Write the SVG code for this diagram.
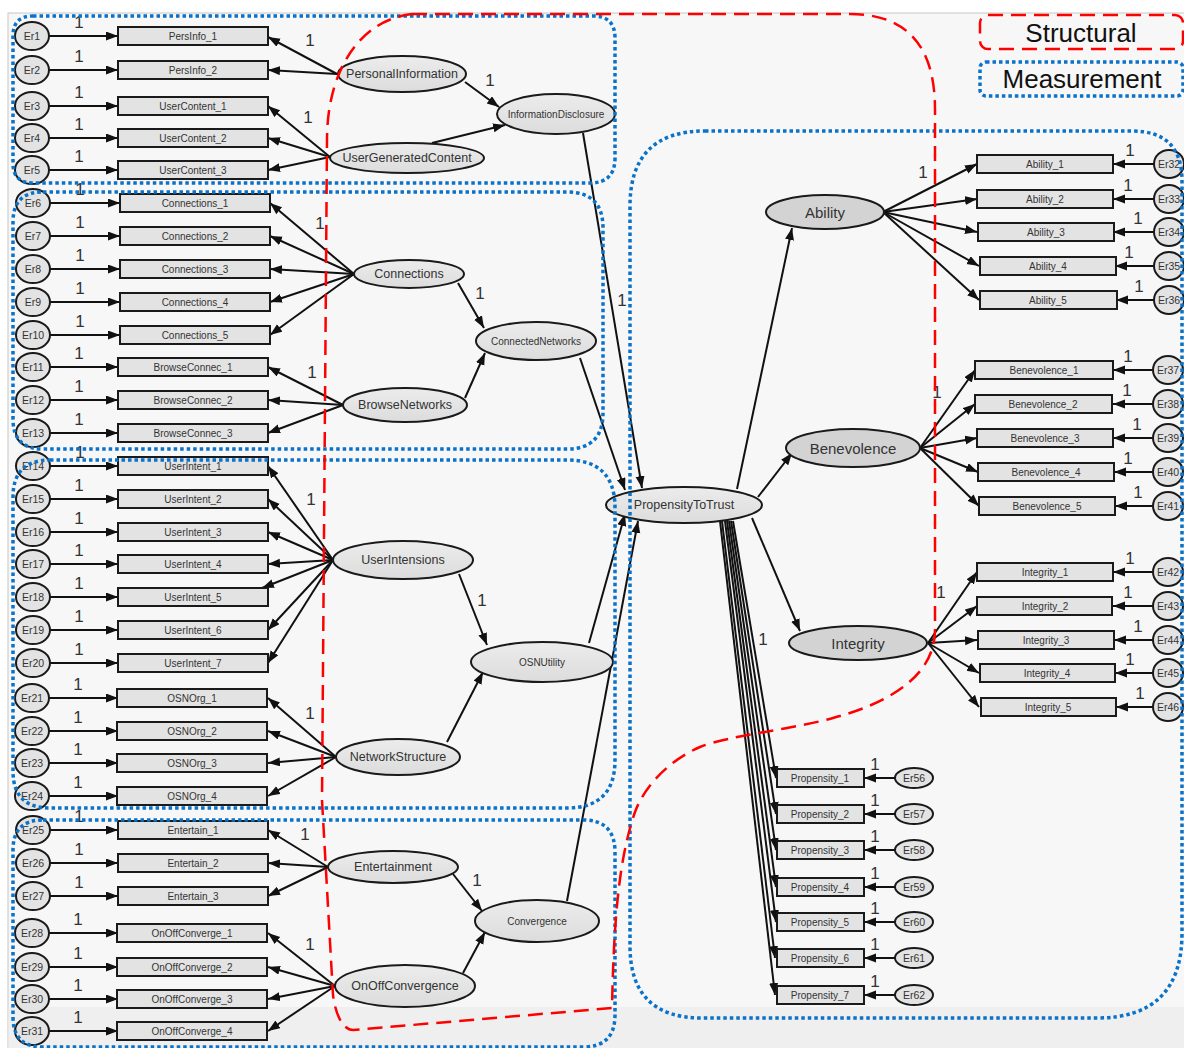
<svg xmlns="http://www.w3.org/2000/svg" width="1184" height="1048" viewBox="0 0 1184 1048">
<defs>
<style>
.box{fill:#e3e3e3;stroke:#1a1a1a;stroke-width:2}
.err{fill:#e3e3e3;stroke:#1a1a1a;stroke-width:2}
.lat{fill:url(#lg);stroke:#1a1a1a;stroke-width:2}
.lat2{fill:#d3d3d3;stroke:#1a1a1a;stroke-width:2}
text{font-family:"Liberation Sans",Arial,sans-serif;fill:#333}
.tb{font-size:10px;text-anchor:middle;dominant-baseline:central}
.te{font-size:10.5px;text-anchor:middle;dominant-baseline:central}
.tl{font-size:12.5px;text-anchor:middle;dominant-baseline:central}
.ts{font-size:10px;text-anchor:middle;dominant-baseline:central}
.tbig{font-size:15px;text-anchor:middle;dominant-baseline:central}
.one{font-size:17px;text-anchor:middle}
.c line{stroke:#111;stroke-width:2;marker-end:url(#ah)}
.meas{fill:none;stroke:#0a72c8;stroke-width:3.5;stroke-dasharray:3.5 3}
.struct{fill:none;stroke:#ff0000;stroke-width:2.5;stroke-dasharray:15 8}
.leg{font-size:26px;fill:#111;text-anchor:middle}
</style>
<linearGradient id="lg" x1="0" y1="0" x2="0" y2="1">
<stop offset="0" stop-color="#ececec"/><stop offset="1" stop-color="#dcdcdc"/>
</linearGradient>
<marker id="ah" markerUnits="userSpaceOnUse" markerWidth="13" markerHeight="10" refX="12" refY="4.5" orient="auto">
<path d="M0,0 L12,4.5 L0,9 Z" fill="#111"/>
</marker>
</defs>
<rect width="1184" height="1048" fill="#fff"/>
<rect x="8" y="13" width="1177" height="1036" fill="#f7f7f7" stroke="#c8c8c8" stroke-width="1"/>
<rect x="8.5" y="1007" width="1176" height="41" fill="#efefef"/>

<g id="connectors" class="c">
<!-- left error arrows -->
<line x1="49" y1="36" x2="118" y2="36"/><line x1="49" y1="70" x2="118" y2="70"/><line x1="49" y1="106" x2="118" y2="106"/><line x1="49" y1="138" x2="118" y2="138"/><line x1="49" y1="170" x2="118" y2="170"/>
<line x1="49" y1="203" x2="120" y2="203"/><line x1="49" y1="236" x2="120" y2="236"/><line x1="49" y1="269" x2="120" y2="269"/><line x1="49" y1="302" x2="120" y2="302"/><line x1="49" y1="335" x2="120" y2="335"/>
<line x1="49" y1="367" x2="118" y2="367"/><line x1="49" y1="400" x2="118" y2="400"/><line x1="49" y1="433" x2="118" y2="433"/>
<line x1="49" y1="466" x2="118" y2="466"/><line x1="49" y1="499" x2="118" y2="499"/><line x1="49" y1="532" x2="118" y2="532"/><line x1="49" y1="564" x2="118" y2="564"/><line x1="49" y1="597" x2="118" y2="597"/><line x1="49" y1="630" x2="118" y2="630"/><line x1="49" y1="663" x2="118" y2="663"/>
<line x1="49" y1="698" x2="118" y2="698"/><line x1="49" y1="731" x2="118" y2="731"/><line x1="49" y1="763" x2="118" y2="763"/><line x1="49" y1="796" x2="118" y2="796"/>
<line x1="49" y1="830" x2="118" y2="830"/><line x1="49" y1="863" x2="118" y2="863"/><line x1="49" y1="896" x2="118" y2="896"/>
<line x1="49" y1="933" x2="118" y2="933"/><line x1="49" y1="967" x2="118" y2="967"/><line x1="49" y1="999" x2="118" y2="999"/><line x1="49" y1="1031" x2="118" y2="1031"/>
<!-- latent to left indicators -->
<line x1="337" y1="74" x2="268" y2="37"/><line x1="337" y1="74" x2="268" y2="70"/>
<line x1="330" y1="157" x2="268" y2="106"/><line x1="330" y1="157" x2="268" y2="138"/><line x1="330" y1="157" x2="268" y2="170"/>
<line x1="354" y1="274" x2="270" y2="203"/><line x1="354" y1="274" x2="270" y2="236"/><line x1="354" y1="274" x2="270" y2="269"/><line x1="354" y1="274" x2="270" y2="302"/><line x1="354" y1="274" x2="270" y2="335"/>
<line x1="343" y1="405" x2="268" y2="367"/><line x1="343" y1="405" x2="268" y2="400"/><line x1="343" y1="405" x2="268" y2="433"/>
<line x1="333" y1="560" x2="268" y2="466"/><line x1="333" y1="560" x2="268" y2="499"/><line x1="333" y1="560" x2="268" y2="532"/><line x1="333" y1="560" x2="268" y2="564"/><line x1="333" y1="560" x2="262" y2="588"/><line x1="333" y1="560" x2="268" y2="630"/><line x1="333" y1="560" x2="268" y2="663"/>
<line x1="336" y1="757" x2="268" y2="698"/><line x1="336" y1="757" x2="268" y2="731"/><line x1="336" y1="757" x2="268" y2="763"/><line x1="336" y1="757" x2="268" y2="796"/>
<line x1="328" y1="867" x2="268" y2="830"/><line x1="328" y1="867" x2="268" y2="863"/><line x1="328" y1="867" x2="268" y2="896"/>
<line x1="335" y1="986" x2="268" y2="933"/><line x1="335" y1="986" x2="268" y2="967"/><line x1="335" y1="986" x2="268" y2="999"/><line x1="335" y1="986" x2="268" y2="1031"/>
<!-- latent to latent -->
<line x1="465" y1="82" x2="499" y2="107"/>
<line x1="432" y1="143" x2="505" y2="125"/>
<line x1="583" y1="133" x2="642" y2="488"/>
<line x1="458" y1="283" x2="484" y2="328"/>
<line x1="465" y1="398" x2="485" y2="353"/>
<line x1="580" y1="358" x2="625" y2="490"/>
<line x1="459" y1="574" x2="487" y2="645"/>
<line x1="447" y1="742" x2="483" y2="672"/>
<line x1="589" y1="643" x2="625" y2="514"/>
<line x1="453" y1="874" x2="482" y2="911"/>
<line x1="463" y1="973" x2="485" y2="932"/>
<line x1="567" y1="901" x2="638" y2="521"/>
<line x1="737" y1="489" x2="792" y2="228"/>
<line x1="758" y1="497" x2="792" y2="453"/>
<line x1="752" y1="518" x2="800" y2="631"/>
<!-- second order to indicators -->
<line x1="883" y1="212" x2="977" y2="164"/><line x1="883" y1="212" x2="977" y2="199"/><line x1="883" y1="212" x2="977" y2="232"/><line x1="883" y1="212" x2="979" y2="266"/><line x1="883" y1="212" x2="979" y2="300"/>
<line x1="920" y1="448" x2="975" y2="370"/><line x1="920" y1="448" x2="975" y2="404"/><line x1="920" y1="448" x2="977" y2="438"/><line x1="920" y1="448" x2="978" y2="472"/><line x1="920" y1="448" x2="979" y2="506"/>
<line x1="928" y1="643" x2="977" y2="572"/><line x1="928" y1="643" x2="977" y2="606"/><line x1="928" y1="643" x2="977" y2="640"/><line x1="928" y1="643" x2="979" y2="673"/><line x1="928" y1="643" x2="979" y2="707"/>
<!-- right error arrows -->
<line x1="1154" y1="164" x2="1113" y2="164"/><line x1="1154" y1="199" x2="1113" y2="199"/><line x1="1154" y1="232" x2="1113" y2="232"/><line x1="1154" y1="266" x2="1115" y2="266"/><line x1="1154" y1="300" x2="1116" y2="300"/>
<line x1="1153" y1="370" x2="1113" y2="370"/><line x1="1153" y1="404" x2="1113" y2="404"/><line x1="1153" y1="438" x2="1113" y2="438"/><line x1="1153" y1="472" x2="1114" y2="472"/><line x1="1153" y1="506" x2="1115" y2="506"/>
<line x1="1153" y1="572" x2="1113" y2="572"/><line x1="1153" y1="606" x2="1113" y2="606"/><line x1="1153" y1="640" x2="1114" y2="640"/><line x1="1153" y1="673" x2="1115" y2="673"/><line x1="1153" y1="707" x2="1116" y2="707"/>
<!-- propensity -->
<line x1="733" y1="521" x2="776" y2="778"/><line x1="731" y1="521" x2="776" y2="814"/><line x1="729" y1="521" x2="776" y2="850"/><line x1="727" y1="521" x2="776" y2="887"/><line x1="725" y1="521" x2="776" y2="922"/><line x1="722" y1="521" x2="775" y2="958"/><line x1="720" y1="521" x2="775" y2="995"/>
<line x1="895" y1="778" x2="864" y2="778"/><line x1="895" y1="814" x2="864" y2="814"/><line x1="895" y1="850" x2="864" y2="850"/><line x1="895" y1="887" x2="864" y2="887"/><line x1="895" y1="922" x2="864" y2="922"/><line x1="895" y1="958" x2="864" y2="958"/><line x1="895" y1="995" x2="864" y2="995"/>
</g>

<g id="weights">
<text class="one" x="79" y="28">1</text><text class="one" x="79" y="62">1</text><text class="one" x="79" y="98">1</text><text class="one" x="79" y="130">1</text><text class="one" x="79" y="162">1</text>
<text class="one" x="80" y="195">1</text><text class="one" x="80" y="228">1</text><text class="one" x="80" y="261">1</text><text class="one" x="80" y="294">1</text><text class="one" x="80" y="327">1</text>
<text class="one" x="79" y="359">1</text><text class="one" x="79" y="392">1</text><text class="one" x="79" y="425">1</text>
<text class="one" x="80" y="458">1</text><text class="one" x="79" y="491">1</text><text class="one" x="79" y="524">1</text><text class="one" x="79" y="556">1</text><text class="one" x="79" y="589">1</text><text class="one" x="79" y="622">1</text><text class="one" x="79" y="655">1</text>
<text class="one" x="78" y="690">1</text><text class="one" x="78" y="723">1</text><text class="one" x="78" y="755">1</text><text class="one" x="78" y="788">1</text>
<text class="one" x="79" y="822">1</text><text class="one" x="79" y="855">1</text><text class="one" x="79" y="888">1</text>
<text class="one" x="78" y="925">1</text><text class="one" x="78" y="959">1</text><text class="one" x="78" y="991">1</text><text class="one" x="78" y="1023">1</text>
<text class="one" x="310" y="46">1</text><text class="one" x="308" y="123">1</text><text class="one" x="320" y="229">1</text><text class="one" x="312" y="378">1</text><text class="one" x="311" y="505">1</text><text class="one" x="310" y="719">1</text><text class="one" x="305" y="840">1</text><text class="one" x="310" y="950">1</text>
<text class="one" x="490" y="86">1</text><text class="one" x="480" y="299">1</text><text class="one" x="482" y="606">1</text><text class="one" x="477" y="886">1</text><text class="one" x="622" y="306">1</text>
<text class="one" x="923" y="178">1</text><text class="one" x="937" y="398">1</text><text class="one" x="941" y="598">1</text><text class="one" x="763" y="645">1</text>
<text class="one" x="1130" y="156">1</text><text class="one" x="1128" y="191">1</text><text class="one" x="1138" y="224">1</text><text class="one" x="1129" y="258">1</text><text class="one" x="1139" y="292">1</text>
<text class="one" x="1128" y="362">1</text><text class="one" x="1127" y="396">1</text><text class="one" x="1137" y="430">1</text><text class="one" x="1128" y="464">1</text><text class="one" x="1138" y="498">1</text>
<text class="one" x="1130" y="564">1</text><text class="one" x="1128" y="598">1</text><text class="one" x="1138" y="632">1</text><text class="one" x="1130" y="665">1</text><text class="one" x="1140" y="699">1</text>
<text class="one" x="875" y="770">1</text><text class="one" x="875" y="806">1</text><text class="one" x="875" y="842">1</text><text class="one" x="875" y="879">1</text><text class="one" x="875" y="914">1</text><text class="one" x="875" y="950">1</text><text class="one" x="875" y="987">1</text>
</g>

<!-- left error nodes -->
<g id="Er1"><ellipse class="err" cx="32" cy="36" rx="17" ry="14"/><text class="te" x="32" y="36">Er1</text></g>
<g id="Er2"><ellipse class="err" cx="32" cy="70" rx="17" ry="14"/><text class="te" x="32" y="70">Er2</text></g>
<g id="Er3"><ellipse class="err" cx="32" cy="106" rx="17" ry="14"/><text class="te" x="32" y="106">Er3</text></g>
<g id="Er4"><ellipse class="err" cx="32" cy="138" rx="17" ry="14"/><text class="te" x="32" y="138">Er4</text></g>
<g id="Er5"><ellipse class="err" cx="32" cy="170" rx="17" ry="14"/><text class="te" x="32" y="170">Er5</text></g>
<g id="Er6"><ellipse class="err" cx="33" cy="203" rx="17" ry="14"/><text class="te" x="33" y="203">Er6</text></g>
<g id="Er7"><ellipse class="err" cx="33" cy="236" rx="17" ry="14"/><text class="te" x="33" y="236">Er7</text></g>
<g id="Er8"><ellipse class="err" cx="33" cy="269" rx="17" ry="14"/><text class="te" x="33" y="269">Er8</text></g>
<g id="Er9"><ellipse class="err" cx="33" cy="302" rx="17" ry="14"/><text class="te" x="33" y="302">Er9</text></g>
<g id="Er10"><ellipse class="err" cx="33" cy="335" rx="17" ry="14"/><text class="te" x="33" y="335">Er10</text></g>
<g id="Er11"><ellipse class="err" cx="33" cy="367" rx="17" ry="14"/><text class="te" x="33" y="367">Er11</text></g>
<g id="Er12"><ellipse class="err" cx="33" cy="400" rx="17" ry="14"/><text class="te" x="33" y="400">Er12</text></g>
<g id="Er13"><ellipse class="err" cx="33" cy="433" rx="17" ry="14"/><text class="te" x="33" y="433">Er13</text></g>
<g id="Er14"><ellipse class="err" cx="33" cy="466" rx="17" ry="14"/><text class="te" x="33" y="466">Er14</text></g>
<g id="Er15"><ellipse class="err" cx="33" cy="499" rx="17" ry="14"/><text class="te" x="33" y="499">Er15</text></g>
<g id="Er16"><ellipse class="err" cx="33" cy="532" rx="17" ry="14"/><text class="te" x="33" y="532">Er16</text></g>
<g id="Er17"><ellipse class="err" cx="33" cy="564" rx="17" ry="14"/><text class="te" x="33" y="564">Er17</text></g>
<g id="Er18"><ellipse class="err" cx="33" cy="597" rx="17" ry="14"/><text class="te" x="33" y="597">Er18</text></g>
<g id="Er19"><ellipse class="err" cx="33" cy="630" rx="17" ry="14"/><text class="te" x="33" y="630">Er19</text></g>
<g id="Er20"><ellipse class="err" cx="33" cy="663" rx="17" ry="14"/><text class="te" x="33" y="663">Er20</text></g>
<g id="Er21"><ellipse class="err" cx="32" cy="698" rx="17" ry="14"/><text class="te" x="32" y="698">Er21</text></g>
<g id="Er22"><ellipse class="err" cx="32" cy="731" rx="17" ry="14"/><text class="te" x="32" y="731">Er22</text></g>
<g id="Er23"><ellipse class="err" cx="32" cy="763" rx="17" ry="14"/><text class="te" x="32" y="763">Er23</text></g>
<g id="Er24"><ellipse class="err" cx="32" cy="796" rx="17" ry="14"/><text class="te" x="32" y="796">Er24</text></g>
<g id="Er25"><ellipse class="err" cx="33" cy="830" rx="17" ry="14"/><text class="te" x="33" y="830">Er25</text></g>
<g id="Er26"><ellipse class="err" cx="33" cy="863" rx="17" ry="14"/><text class="te" x="33" y="863">Er26</text></g>
<g id="Er27"><ellipse class="err" cx="33" cy="896" rx="17" ry="14"/><text class="te" x="33" y="896">Er27</text></g>
<g id="Er28"><ellipse class="err" cx="32" cy="933" rx="17" ry="14"/><text class="te" x="32" y="933">Er28</text></g>
<g id="Er29"><ellipse class="err" cx="32" cy="967" rx="17" ry="14"/><text class="te" x="32" y="967">Er29</text></g>
<g id="Er30"><ellipse class="err" cx="32" cy="999" rx="17" ry="14"/><text class="te" x="32" y="999">Er30</text></g>
<g id="Er31"><ellipse class="err" cx="32" cy="1031" rx="17" ry="14"/><text class="te" x="32" y="1031">Er31</text></g>

<!-- left indicators -->
<g id="PersInfo_1"><rect class="box" x="118" y="27" width="150" height="18"/><text class="tb" x="193" y="36">PersInfo_1</text></g>
<g id="PersInfo_2"><rect class="box" x="118" y="61" width="150" height="18"/><text class="tb" x="193" y="70">PersInfo_2</text></g>
<g id="UserContent_1"><rect class="box" x="118" y="97" width="150" height="18"/><text class="tb" x="193" y="106">UserContent_1</text></g>
<g id="UserContent_2"><rect class="box" x="118" y="129" width="150" height="18"/><text class="tb" x="193" y="138">UserContent_2</text></g>
<g id="UserContent_3"><rect class="box" x="118" y="161" width="150" height="18"/><text class="tb" x="193" y="170">UserContent_3</text></g>
<g id="Connections_1"><rect class="box" x="120" y="194" width="150" height="18"/><text class="tb" x="195" y="203">Connections_1</text></g>
<g id="Connections_2"><rect class="box" x="120" y="227" width="150" height="18"/><text class="tb" x="195" y="236">Connections_2</text></g>
<g id="Connections_3"><rect class="box" x="120" y="260" width="150" height="18"/><text class="tb" x="195" y="269">Connections_3</text></g>
<g id="Connections_4"><rect class="box" x="120" y="293" width="150" height="18"/><text class="tb" x="195" y="302">Connections_4</text></g>
<g id="Connections_5"><rect class="box" x="120" y="326" width="150" height="18"/><text class="tb" x="195" y="335">Connections_5</text></g>
<g id="BrowseConnec_1"><rect class="box" x="118" y="358" width="150" height="18"/><text class="tb" x="193" y="367">BrowseConnec_1</text></g>
<g id="BrowseConnec_2"><rect class="box" x="118" y="391" width="150" height="18"/><text class="tb" x="193" y="400">BrowseConnec_2</text></g>
<g id="BrowseConnec_3"><rect class="box" x="118" y="424" width="150" height="18"/><text class="tb" x="193" y="433">BrowseConnec_3</text></g>
<g id="UserIntent_1"><rect class="box" x="118" y="457" width="150" height="18"/><text class="tb" x="193" y="466">UserIntent_1</text></g>
<g id="UserIntent_2"><rect class="box" x="118" y="490" width="150" height="18"/><text class="tb" x="193" y="499">UserIntent_2</text></g>
<g id="UserIntent_3"><rect class="box" x="118" y="523" width="150" height="18"/><text class="tb" x="193" y="532">UserIntent_3</text></g>
<g id="UserIntent_4"><rect class="box" x="118" y="555" width="150" height="18"/><text class="tb" x="193" y="564">UserIntent_4</text></g>
<g id="UserIntent_5"><rect class="box" x="118" y="588" width="150" height="18"/><text class="tb" x="193" y="597">UserIntent_5</text></g>
<g id="UserIntent_6"><rect class="box" x="118" y="621" width="150" height="18"/><text class="tb" x="193" y="630">UserIntent_6</text></g>
<g id="UserIntent_7"><rect class="box" x="118" y="654" width="150" height="18"/><text class="tb" x="193" y="663">UserIntent_7</text></g>
<g id="OSNOrg_1"><rect class="box" x="117" y="689" width="150" height="18"/><text class="tb" x="192" y="698">OSNOrg_1</text></g>
<g id="OSNOrg_2"><rect class="box" x="117" y="722" width="150" height="18"/><text class="tb" x="192" y="731">OSNOrg_2</text></g>
<g id="OSNOrg_3"><rect class="box" x="117" y="754" width="150" height="18"/><text class="tb" x="192" y="763">OSNOrg_3</text></g>
<g id="OSNOrg_4"><rect class="box" x="117" y="787" width="150" height="18"/><text class="tb" x="192" y="796">OSNOrg_4</text></g>
<g id="Entertain_1"><rect class="box" x="118" y="821" width="150" height="18"/><text class="tb" x="193" y="830">Entertain_1</text></g>
<g id="Entertain_2"><rect class="box" x="118" y="854" width="150" height="18"/><text class="tb" x="193" y="863">Entertain_2</text></g>
<g id="Entertain_3"><rect class="box" x="118" y="887" width="150" height="18"/><text class="tb" x="193" y="896">Entertain_3</text></g>
<g id="OnOffConverge_1"><rect class="box" x="117" y="924" width="150" height="18"/><text class="tb" x="192" y="933">OnOffConverge_1</text></g>
<g id="OnOffConverge_2"><rect class="box" x="117" y="958" width="150" height="18"/><text class="tb" x="192" y="967">OnOffConverge_2</text></g>
<g id="OnOffConverge_3"><rect class="box" x="117" y="990" width="150" height="18"/><text class="tb" x="192" y="999">OnOffConverge_3</text></g>
<g id="OnOffConverge_4"><rect class="box" x="117" y="1022" width="150" height="18"/><text class="tb" x="192" y="1031">OnOffConverge_4</text></g>

<!-- latent variables -->
<g id="PersonalInformation"><ellipse class="lat" cx="402" cy="74" rx="64" ry="18"/><text class="tl" x="402" y="74">PersonalInformation</text></g>
<g id="UserGeneratedContent"><ellipse class="lat" cx="407" cy="158" rx="77" ry="15"/><text class="tl" x="407" y="158">UserGeneratedContent</text></g>
<g id="InformationDisclosure"><ellipse class="lat" cx="556" cy="114" rx="59" ry="20"/><text class="ts" x="556" y="114">InformationDisclosure</text></g>
<g id="Connections"><ellipse class="lat" cx="409" cy="274" rx="55" ry="14"/><text class="tl" x="409" y="274">Connections</text></g>
<g id="BrowseNetworks"><ellipse class="lat" cx="405" cy="405" rx="62" ry="17"/><text class="tl" x="405" y="405">BrowseNetworks</text></g>
<g id="ConnectedNetworks"><ellipse class="lat" cx="536" cy="341" rx="60" ry="19"/><text class="ts" x="536" y="341">ConnectedNetworks</text></g>
<g id="UserIntensions"><ellipse class="lat" cx="403" cy="560" rx="70" ry="19"/><text class="tl" x="403" y="560">UserIntensions</text></g>
<g id="NetworkStructure"><ellipse class="lat" cx="398" cy="757" rx="62" ry="18"/><text class="tl" x="398" y="757">NetworkStructure</text></g>
<g id="OSNUtility"><ellipse class="lat" cx="542" cy="662" rx="71" ry="20"/><text class="ts" x="542" y="662">OSNUtility</text></g>
<g id="Entertainment"><ellipse class="lat" cx="393" cy="867" rx="65" ry="16"/><text class="tl" x="393" y="867">Entertainment</text></g>
<g id="OnOffConvergence"><ellipse class="lat" cx="405" cy="986" rx="70" ry="21"/><text class="tl" x="405" y="986">OnOffConvergence</text></g>
<g id="Convergence"><ellipse class="lat" cx="537" cy="921" rx="62" ry="21"/><text class="ts" x="537" y="921">Convergence</text></g>
<g id="PropensityToTrust"><ellipse class="lat" cx="684" cy="505" rx="78" ry="18"/><text class="tl" x="684" y="505">PropensityToTrust</text></g>
<g id="Ability"><ellipse class="lat2" cx="825" cy="212" rx="59" ry="17"/><text class="tbig" x="825" y="212">Ability</text></g>
<g id="Benevolence"><ellipse class="lat2" cx="853" cy="448" rx="67" ry="19"/><text class="tbig" x="853" y="448">Benevolence</text></g>
<g id="Integrity"><ellipse class="lat2" cx="858" cy="643" rx="69" ry="17"/><text class="tbig" x="858" y="643">Integrity</text></g>

<!-- right indicators -->
<g id="Ability_1"><rect class="box" x="977" y="155" width="136" height="18"/><text class="tb" x="1045" y="164">Ability_1</text></g>
<g id="Ability_2"><rect class="box" x="977" y="190" width="136" height="18"/><text class="tb" x="1045" y="199">Ability_2</text></g>
<g id="Ability_3"><rect class="box" x="978" y="223" width="136" height="18"/><text class="tb" x="1046" y="232">Ability_3</text></g>
<g id="Ability_4"><rect class="box" x="980" y="257" width="136" height="18"/><text class="tb" x="1048" y="266">Ability_4</text></g>
<g id="Ability_5"><rect class="box" x="980" y="291" width="137" height="18"/><text class="tb" x="1048" y="300">Ability_5</text></g>
<g id="Benevolence_1"><rect class="box" x="975" y="361" width="138" height="18"/><text class="tb" x="1044" y="370">Benevolence_1</text></g>
<g id="Benevolence_2"><rect class="box" x="975" y="395" width="137" height="18"/><text class="tb" x="1043" y="404">Benevolence_2</text></g>
<g id="Benevolence_3"><rect class="box" x="977" y="429" width="136" height="18"/><text class="tb" x="1045" y="438">Benevolence_3</text></g>
<g id="Benevolence_4"><rect class="box" x="978" y="463" width="136" height="18"/><text class="tb" x="1046" y="472">Benevolence_4</text></g>
<g id="Benevolence_5"><rect class="box" x="979" y="497" width="136" height="18"/><text class="tb" x="1047" y="506">Benevolence_5</text></g>
<g id="Integrity_1"><rect class="box" x="977" y="563" width="136" height="18"/><text class="tb" x="1045" y="572">Integrity_1</text></g>
<g id="Integrity_2"><rect class="box" x="977" y="597" width="135" height="18"/><text class="tb" x="1045" y="606">Integrity_2</text></g>
<g id="Integrity_3"><rect class="box" x="978" y="631" width="136" height="18"/><text class="tb" x="1046" y="640">Integrity_3</text></g>
<g id="Integrity_4"><rect class="box" x="980" y="664" width="135" height="18"/><text class="tb" x="1047" y="673">Integrity_4</text></g>
<g id="Integrity_5"><rect class="box" x="981" y="698" width="135" height="18"/><text class="tb" x="1048" y="707">Integrity_5</text></g>
<g id="Propensity_1"><rect class="box" x="777" y="769" width="87" height="18"/><text class="tb" x="820" y="778">Propensity_1</text></g>
<g id="Propensity_2"><rect class="box" x="777" y="805" width="87" height="18"/><text class="tb" x="820" y="814">Propensity_2</text></g>
<g id="Propensity_3"><rect class="box" x="777" y="841" width="87" height="18"/><text class="tb" x="820" y="850">Propensity_3</text></g>
<g id="Propensity_4"><rect class="box" x="777" y="878" width="87" height="18"/><text class="tb" x="820" y="887">Propensity_4</text></g>
<g id="Propensity_5"><rect class="box" x="777" y="913" width="87" height="18"/><text class="tb" x="820" y="922">Propensity_5</text></g>
<g id="Propensity_6"><rect class="box" x="777" y="949" width="87" height="18"/><text class="tb" x="820" y="958">Propensity_6</text></g>
<g id="Propensity_7"><rect class="box" x="777" y="986" width="87" height="18"/><text class="tb" x="820" y="995">Propensity_7</text></g>

<!-- right errors -->
<g id="Er32"><ellipse class="err" cx="1169" cy="164" rx="15" ry="14"/><text class="te" x="1169" y="164">Er32</text></g>
<g id="Er33"><ellipse class="err" cx="1169" cy="199" rx="15" ry="14"/><text class="te" x="1169" y="199">Er33</text></g>
<g id="Er34"><ellipse class="err" cx="1169" cy="232" rx="15" ry="14"/><text class="te" x="1169" y="232">Er34</text></g>
<g id="Er35"><ellipse class="err" cx="1169" cy="266" rx="15" ry="14"/><text class="te" x="1169" y="266">Er35</text></g>
<g id="Er36"><ellipse class="err" cx="1169" cy="300" rx="15" ry="14"/><text class="te" x="1169" y="300">Er36</text></g>
<g id="Er37"><ellipse class="err" cx="1168" cy="370" rx="15" ry="14"/><text class="te" x="1168" y="370">Er37</text></g>
<g id="Er38"><ellipse class="err" cx="1168" cy="404" rx="15" ry="14"/><text class="te" x="1168" y="404">Er38</text></g>
<g id="Er39"><ellipse class="err" cx="1168" cy="438" rx="15" ry="14"/><text class="te" x="1168" y="438">Er39</text></g>
<g id="Er40"><ellipse class="err" cx="1168" cy="472" rx="15" ry="14"/><text class="te" x="1168" y="472">Er40</text></g>
<g id="Er41"><ellipse class="err" cx="1168" cy="506" rx="15" ry="14"/><text class="te" x="1168" y="506">Er41</text></g>
<g id="Er42"><ellipse class="err" cx="1168" cy="572" rx="15" ry="14"/><text class="te" x="1168" y="572">Er42</text></g>
<g id="Er43"><ellipse class="err" cx="1168" cy="606" rx="15" ry="14"/><text class="te" x="1168" y="606">Er43</text></g>
<g id="Er44"><ellipse class="err" cx="1168" cy="640" rx="15" ry="14"/><text class="te" x="1168" y="640">Er44</text></g>
<g id="Er45"><ellipse class="err" cx="1168" cy="673" rx="15" ry="14"/><text class="te" x="1168" y="673">Er45</text></g>
<g id="Er46"><ellipse class="err" cx="1168" cy="707" rx="15" ry="14"/><text class="te" x="1168" y="707">Er46</text></g>
<g id="Er56"><ellipse class="err" cx="914" cy="778" rx="19" ry="10"/><text class="te" x="914" y="778">Er56</text></g>
<g id="Er57"><ellipse class="err" cx="914" cy="814" rx="19" ry="10"/><text class="te" x="914" y="814">Er57</text></g>
<g id="Er58"><ellipse class="err" cx="914" cy="850" rx="19" ry="10"/><text class="te" x="914" y="850">Er58</text></g>
<g id="Er59"><ellipse class="err" cx="914" cy="887" rx="19" ry="10"/><text class="te" x="914" y="887">Er59</text></g>
<g id="Er60"><ellipse class="err" cx="914" cy="922" rx="19" ry="10"/><text class="te" x="914" y="922">Er60</text></g>
<g id="Er61"><ellipse class="err" cx="914" cy="958" rx="19" ry="10"/><text class="te" x="914" y="958">Er61</text></g>
<g id="Er62"><ellipse class="err" cx="914" cy="995" rx="19" ry="10"/><text class="te" x="914" y="995">Er62</text></g>

<!-- model regions -->
<g id="measurement-regions">
<path class="meas" d="M33,16 H593 Q615,16 615,38 V158 Q615,183 590,183 H33 Q13,183 13,163 V36 Q13,16 33,16 Z"/>
<path class="meas" d="M43,192 H567 Q603,192 603,228 V413 Q603,449 567,449 H43 Q13,449 13,419 V222 Q13,192 43,192 Z"/>
<path class="meas" d="M50,460 H567 Q615,460 615,508 V760 Q615,808 567,808 H50 Q13,808 13,771 V497 Q13,460 50,460 Z"/>
<path class="meas" d="M43,820 H583 Q615,820 615,852 V1015 Q615,1047 583,1047 H43 Q13,1047 13,1017 V850 Q13,820 43,820 Z"/>
<path class="meas" d="M705,131 H1132 Q1182,131 1182,181 V933 Q1182,1018 1097,1018 H702 Q630,1018 630,946 V206 Q630,131 705,131 Z"/>
</g>
<g id="structural-region">
<path class="struct" d="M412,14 H850 C925,14 935,70 935,110 V630 C935,670 900,700 833,718 C790,730 730,735 700,747 C670,760 645,785 635,812 C622,850 614,900 612,1008 L353,1030 C342,1030 335,1012 333,995 L322,800 L327,140 C327,70 360,20 412,14 Z"/>
</g>

<!-- legend -->
<g id="legend-structural"><rect class="struct" x="980" y="15" width="203" height="34" rx="8"/><text class="leg" x="1081" y="42">Structural</text></g>
<g id="legend-measurement"><rect class="meas" x="980" y="62" width="203" height="34" rx="6"/><text class="leg" x="1082" y="88">Measurement</text></g>
</svg>
